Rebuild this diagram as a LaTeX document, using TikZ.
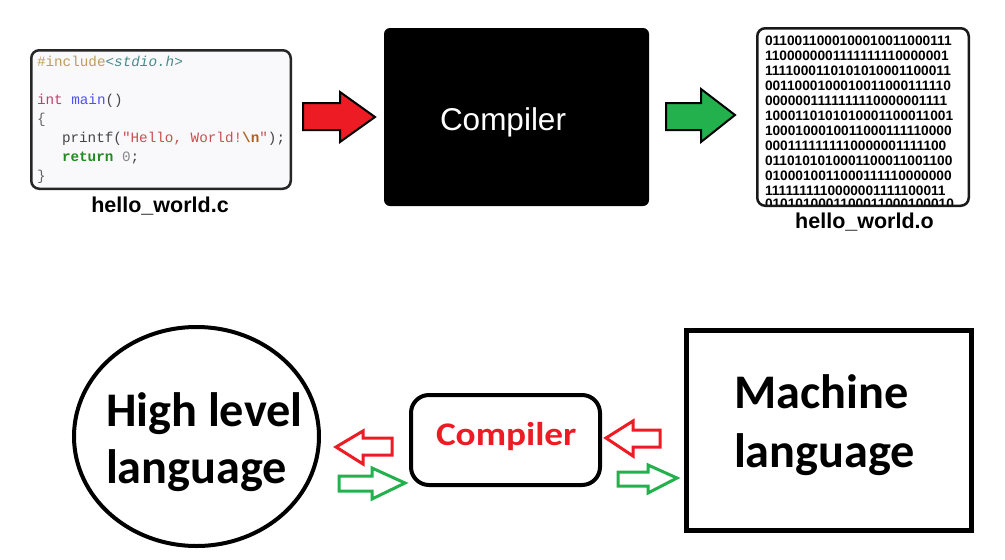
\documentclass[tikz,border=0pt]{standalone}
\usepackage{fontspec}
\usepackage{graphicx}
\usetikzlibrary{shapes.geometric}
\setmainfont{Liberation Sans}
\newfontfamily\codefont{Liberation Mono}
\newfontfamily\calfont{Carlito}
\definecolor{pred}{HTML}{ED1C24}
\definecolor{pgreen}{HTML}{22B14C}
\definecolor{cpre}{HTML}{C39A5C}
\definecolor{cinc}{HTML}{4A8A8A}
\definecolor{ctype}{HTML}{C0406A}
\definecolor{cfunc}{HTML}{5050F0}
\definecolor{cstr}{HTML}{C85050}
\definecolor{cesc}{HTML}{B06020}
\definecolor{ckw}{HTML}{228B22}
\definecolor{cnum}{HTML}{888888}
\definecolor{cdark}{HTML}{444444}
\definecolor{cbrace}{HTML}{666666}
\definecolor{codebg}{HTML}{F9F9FB}
\begin{document}
\begin{tikzpicture}[x=1pt,y=-1pt,
  every node/.style={inner sep=0pt, outer sep=0pt},
  codebox/.style={draw=black!85, line width=2.5pt, fill=codebg, rounded corners=8pt},
  binbox/.style={draw=black!90, line width=2.5pt, fill=white, rounded corners=8pt},
  compbox/.style={fill=black, rounded corners=6pt},
  blockarrow/.style={draw=black, line width=2pt, line join=miter},
  hollowarrow/.style={line width=3pt, line join=miter},
  thickbox/.style={draw=black, line width=4pt},
  code/.style={anchor=base west, font=\codefont\fontsize{14.3}{19}\selectfont},
  bin/.style={anchor=base west, font=\bfseries\fontsize{13.7}{15}\selectfont},
  filelabel/.style={anchor=base, font=\bfseries\fontsize{21.5}{25}\selectfont},
  bigtext/.style={anchor=base west, font=\calfont\bfseries\fontsize{48.3}{58}\selectfont}
]
\useasboundingbox (0,0) rectangle (1005,560);
\fill[white] (0,0) rectangle (1005,560);

% ---------- top row ----------
\node[codebox, minimum width=259.5pt, minimum height=138.5pt] (src) at (161,119.5) {};
\node[code] (c1) at (37,66) {{\color{cpre}\#include}{\color{cinc}\itshape<stdio.h>}};
\node[code] (c2) at (37,104) {{\color{ctype}int} {\color{cfunc}main}{\color{cdark}()}};
\node[code] (c3) at (37,123) {\color{cbrace}\{};
\node[code] (c4) at (62,142) {{\color{cdark}printf(}{\color{cstr}"Hello, World!}{\color{cesc}\bfseries\textbackslash n}{\color{cstr}"}{\color{cdark});}};
\node[code] (c5) at (62,161) {{\color{ckw}\bfseries return} {\color{cnum}0}{\color{cdark};}};
\node[code] (c6) at (37,180) {\color{cbrace}\}};
\node[filelabel] (srclabel) at (160,212) {hello\_world.c};

\node[compbox, minimum width=265pt, minimum height=178pt] (comp) at (516.5,117) {};
\node[anchor=base west, text=white, font=\fontsize{31.5}{36}\selectfont] (comptext) at (440,130) {Compiler};

\node[binbox, minimum width=211.5pt, minimum height=177.5pt] (obj) at (863,117) {};
\begin{scope}
  \clip[rounded corners=7pt] (758.5,29.5) rectangle (967.5,204.5);
  \foreach \r [count=\i from 0] in {0110011000100010011000111,1100000001111111110000001,1111000110101010001100011,0011000100010011000111110,0000001111111110000001111,1000110101010001100011001,1000100010011000111110000,0001111111110000001111100,0110101010001100011001100,0100010011000111110000000,1111111110000001111100011}
    \node[bin] (b\i) at (765,{45+15*\i}) {\r};
  \node[bin] (b11) at (765,208.5) {0101010001100011000100010};
\end{scope}
\node[filelabel] (objlabel) at (864.5,228) {hello\_world.o};

% top block arrows
\draw[blockarrow, fill=pred] (303,103) -- (340,103) -- (340,92) -- (375,117) -- (340,142) -- (340,130) -- (303,130) -- cycle;
\draw[blockarrow, fill=pgreen] (666,103) -- (701,103) -- (701,89) -- (735,115) -- (701,142) -- (701,130) -- (666,130) -- cycle;

% ---------- bottom row ----------
\node[draw, ellipse, line width=4pt, minimum width=245pt, minimum height=219pt] (hll) at (196.5,436.5) {};
\node[bigtext] (hl1) at (106,426) {High level};
\node[bigtext] (hl2) at (106,483) {language};

\node[thickbox, rounded corners=18pt, minimum width=189pt, minimum height=90pt] (comp2) at (505.5,440) {};
\node[anchor=base west, text=pred] (comp2text) at (436,445) {\scalebox{1.13}[1]{\calfont\bfseries\fontsize{33}{40}\selectfont Compiler}};

\node[draw=black, line width=5pt, minimum width=285pt, minimum height=200pt] (ml) at (829,430.5) {};
\node[bigtext] (ml1) at (734,408) {Machine};
\node[bigtext] (ml2) at (734,467) {language};

% hollow arrows
\draw[hollowarrow, draw=pred] (336,447) -- (363,431) -- (363,438) -- (392,438) -- (392,455) -- (363,455) -- (363,464) -- cycle;
\draw[hollowarrow, draw=pgreen] (339,476) -- (372,476) -- (372,468) -- (405,483) -- (372,499) -- (372,491) -- (339,491) -- cycle;
\draw[hollowarrow, draw=pred] (606,438) -- (633,421) -- (633,430) -- (660,430) -- (660,447) -- (633,447) -- (633,456) -- cycle;
\draw[hollowarrow, draw=pgreen] (618,472) -- (648,472) -- (648,465) -- (677,478) -- (648,493) -- (648,486) -- (618,486) -- cycle;
\end{tikzpicture}
\end{document}
